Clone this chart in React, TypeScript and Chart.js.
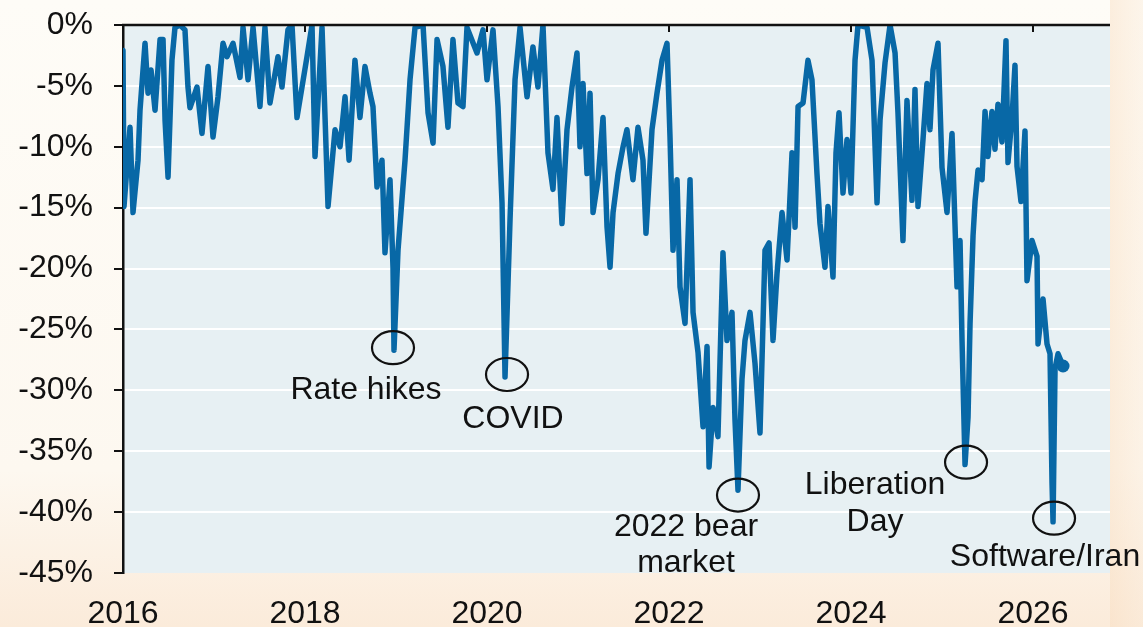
import React, { useEffect, useRef } from 'react';
import { Chart, registerables } from 'chart.js';

Chart.register(...registerables);

// ---- data ----
const years = [
  2016.000, 2016.011, 2016.077, 2016.110, 2016.165, 2016.187, 2016.242, 2016.275, 2016.308, 2016.352,
  2016.407, 2016.440, 2016.462, 2016.495, 2016.538, 2016.571, 2016.626, 2016.681, 2016.714, 2016.736,
  2016.813, 2016.868, 2016.934, 2016.989, 2017.044, 2017.099, 2017.143, 2017.209, 2017.286, 2017.319,
  2017.374, 2017.429, 2017.505, 2017.560, 2017.615, 2017.703, 2017.747, 2017.813, 2017.857, 2017.912,
  2017.967, 2018.022, 2018.077, 2018.110, 2018.187, 2018.253, 2018.330, 2018.385, 2018.440, 2018.484,
  2018.549, 2018.604, 2018.659, 2018.714, 2018.747, 2018.791, 2018.846, 2018.879, 2018.934, 2018.967,
  2018.978, 2019.022, 2019.099, 2019.154, 2019.209, 2019.297, 2019.352, 2019.407, 2019.451, 2019.516,
  2019.571, 2019.626, 2019.681, 2019.736, 2019.780, 2019.890, 2019.956, 2020.000, 2020.066, 2020.121,
  2020.165, 2020.198, 2020.253, 2020.308, 2020.363, 2020.440, 2020.505, 2020.560, 2020.615, 2020.670,
  2020.725, 2020.769, 2020.824, 2020.879, 2020.934, 2020.989, 2021.022, 2021.055, 2021.099, 2021.132,
  2021.165, 2021.220, 2021.275, 2021.319, 2021.352, 2021.385, 2021.440, 2021.495, 2021.538, 2021.604,
  2021.659, 2021.714, 2021.747, 2021.813, 2021.868, 2021.923, 2021.978, 2022.011, 2022.044, 2022.088,
  2022.121, 2022.176, 2022.231, 2022.264, 2022.319, 2022.374, 2022.418, 2022.440, 2022.484, 2022.538,
  2022.593, 2022.637, 2022.692, 2022.725, 2022.758, 2022.802, 2022.835, 2022.890, 2022.945, 2023.000,
  2023.055, 2023.099, 2023.143, 2023.187, 2023.242, 2023.297, 2023.352, 2023.385, 2023.418, 2023.473,
  2023.527, 2023.571, 2023.626, 2023.659, 2023.714, 2023.747, 2023.802, 2023.835, 2023.868, 2023.912,
  2023.956, 2024.000, 2024.044, 2024.077, 2024.176, 2024.231, 2024.286, 2024.319, 2024.374, 2024.429,
  2024.484, 2024.516, 2024.571, 2024.615, 2024.670, 2024.703, 2024.736, 2024.791, 2024.835, 2024.868,
  2024.901, 2024.956, 2025.000, 2025.055, 2025.110, 2025.165, 2025.198, 2025.220, 2025.253, 2025.286,
  2025.308, 2025.341, 2025.363, 2025.396, 2025.440, 2025.473, 2025.505, 2025.549, 2025.582, 2025.615,
  2025.659, 2025.703, 2025.725, 2025.769, 2025.802, 2025.824, 2025.868, 2025.912, 2025.934, 2025.989,
  2026.044, 2026.055, 2026.110, 2026.154, 2026.187, 2026.209, 2026.220, 2026.242, 2026.275, 2026.308,
  2026.330,
];

const drawdown = [
  -2.1, -14.9, -8.4, -15.4, -11.1, -7.0, -1.5, -5.6, -3.7, -7.0,
  -1.2, -1.2, -7.8, -12.5, -2.9, -0.2, 0, -0.4, -5.1, -6.8,
  -5.1, -8.9, -3.4, -9.2, -5.9, -1.5, -2.6, -1.5, -4.3, -0.2,
  -4.5, -0.2, -6.7, -0.2, -6.4, -2.6, -5.1, -0.4, 0, -7.6,
  -5.1, -2.6, 0, -10.8, -0.2, -14.9, -8.6, -10.0, -5.9, -11.1,
  -2.9, -7.6, -3.4, -5.6, -6.7, -13.3, -11.1, -18.7, -12.7, -19.9,
  -26.7, -18.5, -11.1, -4.5, -0.2, 0, -7.2, -9.7, -1.2, -3.4,
  -8.4, -1.2, -6.4, -6.7, -0.2, -2.3, -0.4, -4.5, -0.4, -6.7,
  -14.6, -28.9, -16.0, -4.5, -0.2, -5.9, -1.8, -5.1, 0, -10.5,
  -13.5, -7.6, -16.3, -8.6, -5.1, -2.3, -10.0, -4.8, -12.2, -5.6,
  -15.4, -12.7, -7.6, -16.6, -19.9, -15.4, -12.2, -10.0, -8.6, -12.7,
  -8.4, -11.1, -17.1, -8.6, -5.6, -2.9, -1.5, -9.2, -18.5, -12.7,
  -21.5, -24.5, -12.7, -23.6, -26.9, -33.0, -26.4, -36.3, -31.4, -33.8,
  -18.7, -25.9, -23.6, -32.4, -38.2, -29.1, -25.9, -23.6, -27.8, -33.5,
  -18.5, -17.9, -25.9, -20.4, -15.4, -19.3, -10.5, -16.6, -6.7, -6.4,
  -2.9, -4.5, -12.2, -16.3, -19.9, -14.9, -20.7, -10.5, -7.2, -13.8,
  -9.4, -13.8, -2.9, 0, -0.2, -2.9, -14.6, -7.8, -3.1, 0,
  -2.3, -7.2, -17.7, -6.2, -14.4, -5.3, -14.9, -9.4, -4.8, -8.6,
  -3.7, -1.5, -11.7, -15.4, -8.9, -21.5, -17.7, -25.9, -36.1, -32.2,
  -24.5, -17.3, -14.5, -11.9, -12.7, -7.1, -10.8, -7.1, -10.2, -6.5,
  -9.6, -1.3, -11.3, -7.6, -3.3, -11.6, -14.5, -8.7, -21.0, -17.7,
  -19.0, -26.2, -22.5, -26.2, -27.0, -37.6, -40.8, -28.2, -27.0, -27.6,
  -28.0,
];

// annotations: label text, circle centre (year, %), label centre (year, %)
const annotationTexts = ['Rate hikes', 'COVID', '2022 bear\nmarket', 'Liberation\nDay', 'Software/Iran'];
const circleYears = [2018.967, 2020.220, 2022.758, 2025.264, 2026.231];
const circleValues = [-26.5, -28.7, -38.6, -35.9, -40.5];
const labelYears = [2018.670, 2020.286, 2022.187, 2024.264, 2026.132];
const labelValues = [-30.0, -32.4, -41.2, -37.8, -43.7];

const X_MIN = 2016;
const X_MAX = 2026.846;
const Y_MIN = -45;
const Y_MAX = 0;

const FONT = '"Liberation Sans", Arial, Helvetica, sans-serif';
const LINE_COLOR = '#0868a6';

const decorPlugin = {
  id: 'decor',
  beforeDraw(chart: any) {
    const { ctx, chartArea: a, width, height } = chart;
    ctx.save();
    const g = ctx.createLinearGradient(0, 0, 0, height);
    g.addColorStop(0, '#fefcf7');
    g.addColorStop(0.75, '#fdf8f0');
    g.addColorStop(1, '#fbebda');
    ctx.fillStyle = g;
    ctx.fillRect(0, 0, width, height);
    const g2 = ctx.createLinearGradient(a.right, 0, width, 0);
    g2.addColorStop(0, 'rgba(248,220,190,0.45)');
    g2.addColorStop(1, 'rgba(250,232,212,0.35)');
    ctx.fillStyle = g2;
    ctx.fillRect(a.right, 0, width - a.right, height);
    ctx.fillStyle = '#e7f0f3';
    ctx.fillRect(a.left, a.top, a.right - a.left, a.bottom - a.top);
    ctx.restore();
  },
  afterDatasetsDraw(chart: any) {
    const { ctx, chartArea: a, scales } = chart;
    const xs = scales.x;
    const ys = scales.y;
    ctx.save();
    // top axis line at 0% with downward ticks
    const y0 = ys.getPixelForValue(0);
    ctx.strokeStyle = '#111';
    ctx.lineWidth = 2.5;
    ctx.beginPath();
    ctx.moveTo(a.left - 1, y0);
    ctx.lineTo(a.right, y0);
    ctx.stroke();
    ctx.lineWidth = 2;
    xs.ticks.forEach((t: any) => {
      const px = xs.getPixelForValue(t.value);
      ctx.beginPath();
      ctx.moveTo(px, y0);
      ctx.lineTo(px, y0 + 7);
      ctx.stroke();
    });
    // circles
    ctx.lineWidth = 2.2;
    circleYears.forEach((cx, i) => {
      const px = xs.getPixelForValue(cx);
      const py = ys.getPixelForValue(circleValues[i]);
      ctx.beginPath();
      ctx.ellipse(px, py, 21, 16.5, 0, 0, Math.PI * 2);
      ctx.stroke();
    });
    // labels
    ctx.fillStyle = '#111';
    ctx.font = `32px ${FONT}`;
    ctx.textAlign = 'center';
    ctx.textBaseline = 'middle';
    annotationTexts.forEach((txt, i) => {
      const px = xs.getPixelForValue(labelYears[i]);
      const py = ys.getPixelForValue(labelValues[i]);
      txt.split('\n').forEach((line, j) => {
        ctx.fillText(line, px, py + j * 36.5);
      });
    });
    ctx.restore();
  },
};

export default function App() {
  const canvasRef = useRef<HTMLCanvasElement | null>(null);

  useEffect(() => {
    const canvas = canvasRef.current;
    if (!canvas) return;
    const last = years.length - 1;
    const chart = new Chart(canvas, {
      type: 'line',
      data: {
        datasets: [
          {
            data: years.map((x, i) => ({ x, y: drawdown[i] })),
            borderColor: LINE_COLOR,
            backgroundColor: LINE_COLOR,
            borderWidth: 5.5,
            borderJoinStyle: 'round',
            borderCapStyle: 'round',
            tension: 0,
            fill: false,
            pointRadius: (c: any) => (c.dataIndex === last ? 6.5 : 0),
            pointHoverRadius: 0,
            pointBorderWidth: 0,
            pointBackgroundColor: LINE_COLOR,
          },
        ],
      },
      options: {
        animation: false,
        responsive: true,
        maintainAspectRatio: false,
        events: [],
        layout: { padding: { top: 25, right: 33, left: 0, bottom: 0 } },
        plugins: {
          legend: { display: false },
          tooltip: { enabled: false },
          title: { display: false },
        },
        scales: {
          x: {
            type: 'linear',
            position: 'bottom',
            min: X_MIN,
            max: X_MAX,
            grid: { display: false, drawTicks: false },
            border: { display: false },
            ticks: {
              stepSize: 2,
              includeBounds: false,
              autoSkip: false,
              maxRotation: 0,
              padding: 22,
              color: '#111',
              font: { size: 32, family: FONT },
              callback: (v: any) => String(v),
            },
            afterFit: (s: any) => {
              s.height = 54;
              s.paddingLeft = 0;
              s.paddingRight = 0;
            },
          },
          y: {
            type: 'linear',
            min: Y_MIN,
            max: Y_MAX,
            grid: {
              color: (c: any) =>
                c.tick && (c.tick.value === 0 || c.tick.value === -45) ? 'rgba(0,0,0,0)' : '#ffffff',
              lineWidth: 2,
              tickColor: '#111',
              tickLength: 9,
              tickWidth: 2,
            },
            border: { display: true, color: '#111', width: 2.5 },
            ticks: {
              stepSize: 5,
              padding: 21,
              color: '#111',
              font: { size: 32, family: FONT },
              callback: (v: any) => `${v}%`,
            },
            afterFit: (s: any) => {
              s.width = 123;
              s.paddingTop = 0;
              s.paddingBottom = 0;
            },
          },
        },
      },
      plugins: [decorPlugin],
    } as any);
    return () => chart.destroy();
  }, []);

  return (
    <div style={{ position: 'fixed', left: 0, top: 0, width: 1143, height: 627 }}>
      <canvas ref={canvasRef} />
    </div>
  );
}
